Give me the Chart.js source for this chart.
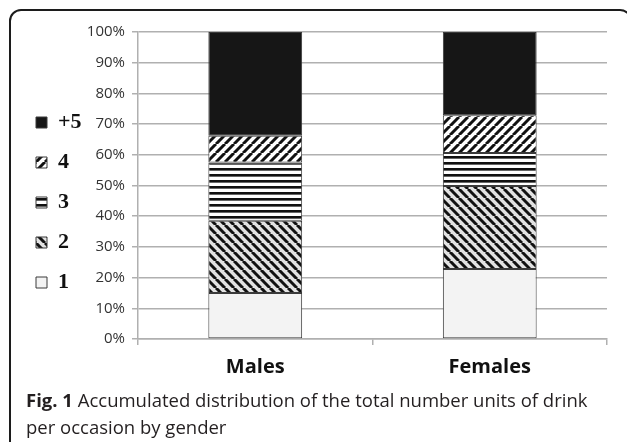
<!DOCTYPE html>
<html>
<head>
<meta charset="utf-8">
<script src="https://cdn.jsdelivr.net/npm/chart.js@4.4.1/dist/chart.umd.min.js"></script>
<style>
  body { margin: 0; background: #fff; width: 627px; height: 442px; overflow: hidden; position: relative; }
  #frame { position: absolute; left: 9px; top: 9px; width: 623px; height: 500px; box-sizing: border-box;
           border: 2px solid #1c1c1c; border-radius: 12px 12px 0 0; }
  #myChart { position: absolute; left: 0; top: 0; }
  #caption { position: absolute; left: 26px; top: 386px; width: 575px; font-family: "Open Sans", sans-serif;
             font-size: 18.5px; line-height: 27px; color: #231f20; }
  #caption b { font-weight: 700; }
</style>
</head>
<body>
<div id="frame"></div>
<canvas id="myChart" width="627" height="402"></canvas>
<div id="caption"><b>Fig. 1</b> Accumulated distribution of the total number units of drink per occasion by gender</div>
<script>
var categories = ["Males", "Females"];
var seriesNames = ["1", "2", "3", "4", "+5"];
var ones = [15, 22.8];
var twos = [23.5, 27];
var threes = [19, 10.8];
var fours = [8.7, 12.3];
var fivePlus = [33.8, 27.1];

function makePattern(kind) {
    var c = document.createElement("canvas");
    var ctx = c.getContext("2d");
    if (kind == "horiz") {
        c.width = 6; c.height = 6;
        ctx.fillStyle = "#ffffff";
        ctx.fillRect(0, 0, 6, 6);
        ctx.fillStyle = "#111111";
        ctx.fillRect(0, 0, 6, 2);
        ctx.fillStyle = "#666666";
        ctx.fillRect(0, 2, 6, 1);
        return ctx.createPattern(c, "repeat");
    }
    c.width = 9; c.height = 9;
    ctx.fillStyle = kind == "back" ? "#e2e2e2" : "#ffffff";
    ctx.fillRect(0, 0, 9, 9);
    ctx.strokeStyle = "#111111";
    ctx.lineWidth = 3;
    for (var k = -9; k <= 9; k += 9) {
        ctx.beginPath();
        if (kind == "back") {
            ctx.moveTo(k, 0);
            ctx.lineTo(k + 9, 9);
        } else {
            ctx.moveTo(k, 9);
            ctx.lineTo(k + 9, 0);
        }
        ctx.stroke();
    }
    return ctx.createPattern(c, "repeat");
}

var fills = ["#f3f3f3", makePattern("back"), makePattern("horiz"), makePattern("fwd"), "#161616"];
var values = [ones, twos, threes, fours, fivePlus];

var datasets = [];
for (let i = 0; i < seriesNames.length; i++) {
    datasets.push({
        label: seriesNames[i],
        data: values[i],
        backgroundColor: fills[i],
        borderColor: "#3a3a3a",
        borderWidth: 1,
        borderSkipped: false,
        barPercentage: 0.4,
        categoryPercentage: 1.0
    });
}

var gridColor = "#b0b0b0";

// legend sits a bit higher than the centered position in the original
var legendShift = {
    id: "legendShift",
    afterLayout: function (chart) {
        chart.legend.top -= 8;
        chart.legend.bottom -= 8;
    }
};

new Chart("myChart", {
    type: "bar",
    data: {
        labels: categories,
        datasets: datasets
    },
    plugins: [legendShift],
    options: {
        responsive: false,
        animation: false,
        layout: { padding: { left: 18, top: 32, right: 20, bottom: 13 } },
        plugins: {
            tooltip: { enabled: false },
            legend: {
                position: "left",
                reverse: true,
                maxWidth: 64,
                labels: {
                    boxWidth: 11,
                    boxHeight: 11,
                    padding: 18,
                    color: "#111",
                    font: { family: "Liberation Serif", weight: "bold", size: 22 }
                }
            }
        },
        scales: {
            x: {
                stacked: true,
                grid: { offset: true, drawOnChartArea: false, tickLength: 6, color: gridColor, lineWidth: 1.5 },
                border: { color: gridColor, width: 1.5 },
                ticks: {
                    padding: 10,
                    color: "#111",
                    font: { family: "Open Sans", weight: "bold", size: 20 }
                }
            },
            y: {
                stacked: true,
                min: 0,
                max: 100,
                ticks: {
                    stepSize: 10,
                    padding: 7,
                    color: "#333",
                    font: { family: "Open Sans", size: 15 },
                    callback: function (v) { return v + "%"; }
                },
                grid: { color: gridColor, lineWidth: 1.5, tickLength: 6 },
                border: { color: gridColor, width: 1.5 },
                afterFit: function (s) {
                    s.width = 138 - 18 - s.chart.legend.width;
                }
            }
        }
    }
});
</script>
</body>
</html>
